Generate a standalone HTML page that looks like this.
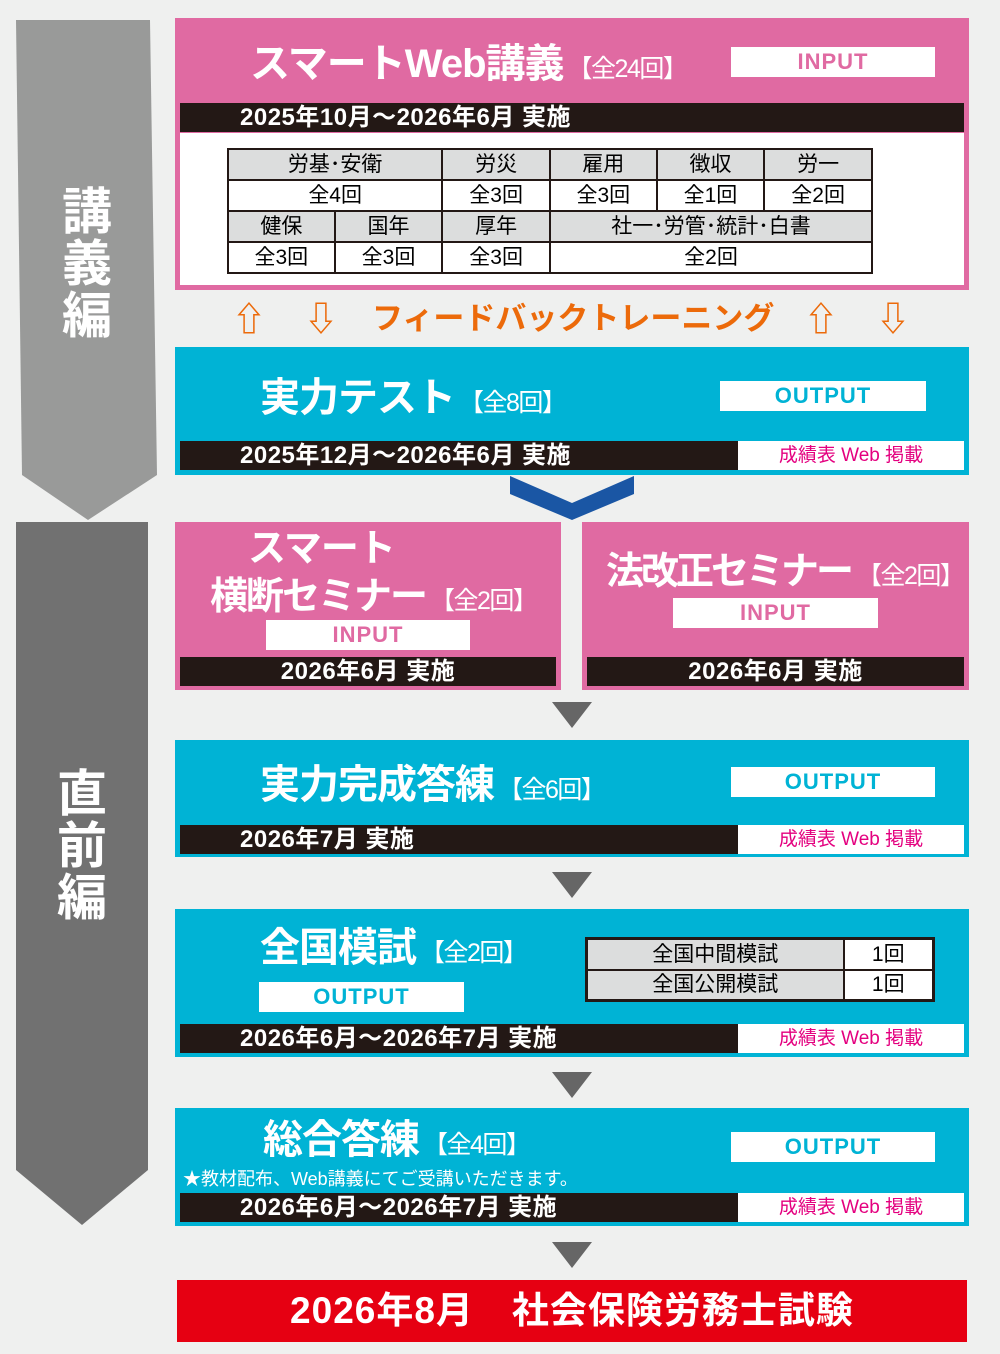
<!DOCTYPE html>
<html><head><meta charset="utf-8"><style>
*{margin:0;padding:0;box-sizing:border-box}
body{width:1000px;height:1354px;background:#eff0ef;position:relative;overflow:hidden;font-family:"Liberation Sans","Noto Sans CJK JP",sans-serif}
.a{position:absolute}
.pink{background:#e06aa2}
.cyan{background:#00b3d5}
.bar{position:absolute;background:#231815;color:#fff;font-size:24px;font-weight:bold;line-height:29px;white-space:nowrap;letter-spacing:0.5px}
.web{position:absolute;background:#fff;color:#e4007f;font-size:19px;text-align:center;line-height:29px}
.tag{position:absolute;background:#fff;text-align:center;font-weight:bold;font-size:22px;line-height:30px;font-family:"Liberation Sans Narrow","Liberation Sans",sans-serif;letter-spacing:1px}
.t{position:absolute;color:#fff;font-weight:bold;white-space:nowrap;line-height:1;letter-spacing:-1px}
.t small{font-size:25px;font-weight:normal;letter-spacing:-1.5px;margin-left:4px}
.tri{position:absolute;width:0;height:0;border-left:20px solid transparent;border-right:20px solid transparent;border-top:26px solid #666}
table{border-collapse:collapse;position:absolute}
td{border:2px solid #231815;text-align:center;font-size:21px;height:31px;padding:0;line-height:27px}
td.g{background:#dcdddd}
td.w{background:#fff}
.v{position:absolute;color:#fff;font-weight:bold;font-size:50px;line-height:52px;width:60px;text-align:center}
</style></head><body>
<svg class="a" style="left:0;top:0" width="170" height="1354">
<polygon points="16,20 150,20 157,475 88,520 22,475" fill="#999a99"/>
<polygon points="16,522 148,522 148,1170 82,1225 16,1170" fill="#717171"/>
</svg>
<svg class="a" style="left:505px;top:474px" width="135" height="50"><polygon points="5,2 67,29 129,2 129,20 67,46 5,20" fill="#1a56a4"/></svg>
<div class="v" style="left:57px;top:186px">講<br>義<br>編</div>
<div class="v" style="left:52px;top:768px">直<br>前<br>編</div>

<div class="a pink" style="left:175px;top:18px;width:794px;height:272px"></div>
<div class="t" style="left:250px;top:44px;font-size:40px">スマートWeb講義<small>【全24回】</small></div>
<div class="tag" style="left:731px;top:47px;width:204px;color:#e06aa2">INPUT</div>
<div class="bar" style="left:180px;top:103px;width:784px;padding-left:60px">2025年10月～2026年6月 実施</div>
<div class="a" style="left:180px;top:133px;width:784px;height:152px;background:#fff"></div>
<table style="left:227px;top:148px;width:646px">
<tr><td class="g" colspan="2" style="width:215px">労基･安衛</td><td class="g" style="width:108px">労災</td><td class="g" style="width:107px">雇用</td><td class="g" style="width:108px">徴収</td><td class="g" style="width:108px">労一</td></tr>
<tr><td class="w" colspan="2">全4回</td><td class="w">全3回</td><td class="w">全3回</td><td class="w">全1回</td><td class="w">全2回</td></tr>
<tr><td class="g" style="width:107px">健保</td><td class="g" style="width:108px">国年</td><td class="g">厚年</td><td class="g" colspan="3">社一･労管･統計･白書</td></tr>
<tr><td class="w">全3回</td><td class="w">全3回</td><td class="w">全3回</td><td class="w" colspan="3">全2回</td></tr>
</table>
<div class="t" style="left:232px;top:303px;font-size:34px;color:#ec6a0a;width:700px;letter-spacing:0">⇧<span style="position:absolute;left:72px">⇩</span><span style="position:absolute;left:140px;font-size:31px">フィードバックトレーニング</span><span style="position:absolute;left:572px">⇧</span><span style="position:absolute;left:644px">⇩</span></div>

<div class="a cyan" style="left:175px;top:347px;width:794px;height:128px"></div>
<div class="t" style="left:260px;top:378px;font-size:40px">実力テスト<small>【全8回】</small></div>
<div class="tag" style="left:720px;top:381px;width:206px;color:#00b3d5">OUTPUT</div>
<div class="bar" style="left:180px;top:441px;width:558px;padding-left:60px">2025年12月～2026年6月 実施</div>
<div class="web" style="left:738px;top:441px;width:226px">成績表 Web 掲載</div>

<div class="a pink" style="left:175px;top:522px;width:386px;height:168px"></div>
<div class="t" style="left:248px;top:530px;font-size:38px">スマート</div>
<div class="t" style="left:210px;top:578px;font-size:38px;letter-spacing:-2px">横断セミナー<small>【全2回】</small></div>
<div class="tag" style="left:266px;top:620px;width:204px;color:#e06aa2">INPUT</div>
<div class="bar" style="left:180px;top:657px;width:376px;text-align:center">2026年6月 実施</div>
<div class="a pink" style="left:582px;top:522px;width:387px;height:168px"></div>
<div class="t" style="left:606px;top:553px;font-size:38px;letter-spacing:-3px">法改正セミナー<small style="margin-left:6px">【全2回】</small></div>
<div class="tag" style="left:673px;top:598px;width:205px;color:#e06aa2">INPUT</div>
<div class="bar" style="left:587px;top:657px;width:377px;text-align:center">2026年6月 実施</div>

<div class="tri" style="left:552px;top:702px"></div>

<div class="a cyan" style="left:175px;top:740px;width:794px;height:117px"></div>
<div class="t" style="left:260px;top:765px;font-size:40px">実力完成答練<small>【全6回】</small></div>
<div class="tag" style="left:731px;top:767px;width:204px;color:#00b3d5">OUTPUT</div>
<div class="bar" style="left:180px;top:825px;width:558px;padding-left:60px">2026年7月 実施</div>
<div class="web" style="left:738px;top:825px;width:226px">成績表 Web 掲載</div>

<div class="tri" style="left:552px;top:872px"></div>

<div class="a cyan" style="left:175px;top:909px;width:794px;height:148px"></div>
<div class="t" style="left:260px;top:928px;font-size:40px">全国模試<small>【全2回】</small></div>
<div class="tag" style="left:259px;top:982px;width:205px;color:#00b3d5">OUTPUT</div>
<table style="left:585px;top:937px;width:350px;border:3px solid #231815">
<tr><td class="g" style="width:257px">全国中間模試</td><td class="w">1回</td></tr>
<tr><td class="g">全国公開模試</td><td class="w">1回</td></tr>
</table>
<div class="bar" style="left:180px;top:1024px;width:558px;padding-left:60px">2026年6月～2026年7月 実施</div>
<div class="web" style="left:738px;top:1024px;width:226px">成績表 Web 掲載</div>

<div class="tri" style="left:552px;top:1072px"></div>

<div class="a cyan" style="left:175px;top:1108px;width:794px;height:118px"></div>
<div class="t" style="left:263px;top:1120px;font-size:40px">総合答練<small>【全4回】</small></div>
<div class="tag" style="left:731px;top:1132px;width:204px;color:#00b3d5">OUTPUT</div>
<div class="t" style="left:183px;top:1170px;font-size:18px;font-weight:normal;letter-spacing:0">★教材配布、Web講義にてご受講いただきます。</div>
<div class="bar" style="left:180px;top:1193px;width:558px;padding-left:60px">2026年6月～2026年7月 実施</div>
<div class="web" style="left:738px;top:1193px;width:226px">成績表 Web 掲載</div>

<div class="tri" style="left:552px;top:1242px"></div>

<div class="a" style="left:177px;top:1280px;width:790px;height:62px;background:#e60012;color:#fff;font-weight:bold;font-size:37px;line-height:62px;text-align:center;letter-spacing:1px">2026年8月　社会保険労務士試験</div>
</body></html>
